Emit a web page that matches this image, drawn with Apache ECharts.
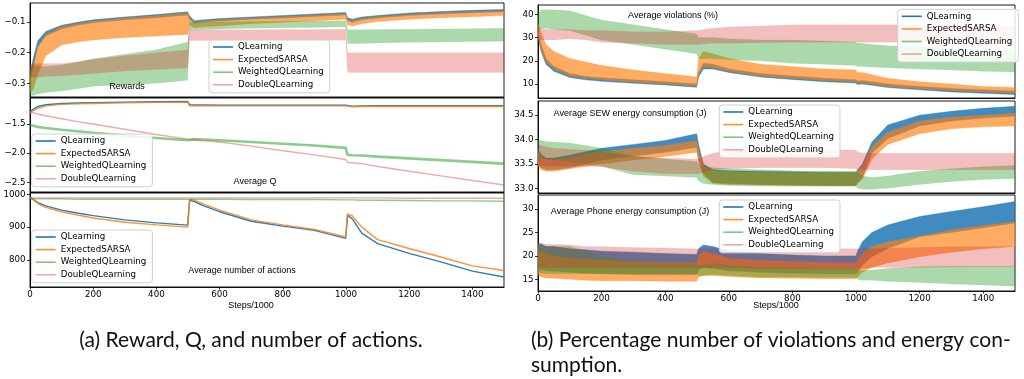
<!DOCTYPE html>
<html><head><meta charset="utf-8">
<script src="https://cdn.jsdelivr.net/npm/echarts@6/dist/echarts.min.js"></script>
<style>html,body{margin:0;padding:0;background:#fff}#c{width:1024px;height:379px}</style>
</head><body><div id="c"></div>
<script>
// ---------- data ----------
const steps = [0,10,25,50,100,150,200,300,400,499,505,520,550,600,700,800,900,999,1005,1020,1050,1100,1200,1300,1400,1500];
const seriesNames = ['QLearning','ExpectedSARSA','WeightedQLearning','DoubleQLearning'];
const xTicks = [0,200,400,600,800,1000,1200,1400];

// Rewards (bands: low/high envelope)
const rewQL_lo = [-0.3,-0.25,-0.18,-0.145,-0.122,-0.11,-0.102,-0.092,-0.085,-0.076,-0.09,-0.104,-0.1,-0.096,-0.09,-0.086,-0.081,-0.076,-0.095,-0.1,-0.092,-0.086,-0.078,-0.073,-0.069,-0.066];
const rewQL_hi = [-0.27,-0.22,-0.16,-0.13,-0.11,-0.1,-0.092,-0.083,-0.075,-0.066,-0.08,-0.095,-0.092,-0.088,-0.083,-0.078,-0.073,-0.068,-0.085,-0.09,-0.083,-0.078,-0.07,-0.065,-0.061,-0.058];
const rewES_lo = [-0.33,-0.32,-0.27,-0.21,-0.175,-0.165,-0.158,-0.15,-0.145,-0.14,-0.11,-0.118,-0.115,-0.112,-0.105,-0.1,-0.095,-0.09,-0.108,-0.112,-0.105,-0.098,-0.09,-0.085,-0.082,-0.078];
const rewES_hi = [-0.28,-0.24,-0.18,-0.14,-0.115,-0.105,-0.097,-0.087,-0.079,-0.07,-0.085,-0.1,-0.096,-0.092,-0.087,-0.082,-0.077,-0.072,-0.09,-0.095,-0.088,-0.082,-0.075,-0.07,-0.066,-0.063];
const rewWQ_lo = [-0.34,-0.34,-0.335,-0.33,-0.325,-0.318,-0.31,-0.305,-0.3,-0.29,-0.125,-0.125,-0.124,-0.122,-0.12,-0.118,-0.117,-0.115,-0.17,-0.17,-0.17,-0.168,-0.166,-0.165,-0.163,-0.162];
const rewWQ_hi = [-0.24,-0.24,-0.245,-0.245,-0.24,-0.23,-0.22,-0.205,-0.19,-0.165,-0.1,-0.1,-0.1,-0.099,-0.098,-0.097,-0.096,-0.095,-0.125,-0.125,-0.125,-0.124,-0.123,-0.122,-0.121,-0.12];
const rewDQ_lo = [-0.28,-0.28,-0.28,-0.278,-0.275,-0.272,-0.268,-0.26,-0.255,-0.25,-0.16,-0.16,-0.16,-0.16,-0.16,-0.16,-0.159,-0.159,-0.265,-0.265,-0.265,-0.265,-0.265,-0.265,-0.265,-0.265];
const rewDQ_hi = [-0.24,-0.235,-0.235,-0.235,-0.235,-0.23,-0.222,-0.21,-0.2,-0.19,-0.125,-0.125,-0.125,-0.125,-0.125,-0.124,-0.124,-0.123,-0.2,-0.2,-0.2,-0.2,-0.2,-0.2,-0.2,-0.2];
const rewTicks = [-0.3,-0.2,-0.1];

// Average Q (lines)
const qQL = [-1.3,-1.25,-1.2,-1.17,-1.15,-1.14,-1.135,-1.125,-1.12,-1.115,-1.17,-1.175,-1.175,-1.178,-1.18,-1.18,-1.18,-1.18,-1.2,-1.195,-1.19,-1.185,-1.185,-1.185,-1.185,-1.185];
const qES = [-1.31,-1.27,-1.23,-1.19,-1.165,-1.155,-1.148,-1.138,-1.13,-1.125,-1.19,-1.188,-1.188,-1.19,-1.19,-1.19,-1.19,-1.19,-1.21,-1.205,-1.2,-1.2,-1.2,-1.2,-1.2,-1.2];
const qWQ = [-1.52,-1.53,-1.55,-1.57,-1.6,-1.625,-1.65,-1.7,-1.74,-1.78,-1.76,-1.76,-1.765,-1.78,-1.81,-1.84,-1.87,-1.91,-2.03,-2.035,-2.04,-2.06,-2.09,-2.12,-2.15,-2.18];
const qDQ = [-1.3,-1.31,-1.33,-1.36,-1.41,-1.46,-1.5,-1.59,-1.68,-1.76,-1.765,-1.775,-1.79,-1.81,-1.88,-1.96,-2.03,-2.11,-2.16,-2.165,-2.18,-2.23,-2.31,-2.39,-2.47,-2.545];
const qTicks = [-2.5,-2.0,-1.5];

// Average number of actions (lines)
const actQL = [990,985,975,965,952,943,935,922,913,906,982,978,965,947,918,903,890,866,936,925,882,850,820,794,766,748];
const actES = [990,984,972,960,947,937,928,915,907,900,984,982,970,952,922,907,893,870,940,934,900,862,835,809,782,768];
const actWQ = [988,986,986,986,986,985,985,985,985,985,985,985,985,985,984,984,984,983,983,983,982,982,981,980,980,979];
const actDQ = [990,989,989,989,989,989,989,989,989,989,989,989,989,989,989,989,989,989,989,989,989,989,988,988,988,988];
const actTicks = [800,900,1000];

// Average violations (%) (bands)
const vioQL_lo = [30,24,18.5,15.5,12.8,11.8,11.2,10.3,9.6,8.6,13,16.5,16.5,15,13,12,11,10.4,9.8,10,9.5,8.5,7.5,6.6,6,5.5];
const vioQL_hi = [33,27,21,17.5,14.5,13.3,12.7,11.8,11,10,15,19,18.5,16.5,14.5,13.5,12.5,11.9,11.3,11.5,11,10,9,8.1,7.5,7];
const vioES_lo = [31,25,19.5,16.5,13.5,12.5,11.8,10.8,10,9.2,14,17.5,17,15.5,13.5,12.5,11.5,11,10.5,10.5,10,9,8,7.2,6.6,6.2];
const vioES_hi = [36,32,27,24,21,19.5,18,16,14.5,13,21,24,23,21,18.5,17.5,16.5,16,15,15,14,12.5,11,10,9,8.5];
const vioWQ_lo = [34,34,34,33.5,33,31,29,27,25,23,21,21,21,20.5,20,19,18.5,18,17.5,17.5,17.3,17,16.5,16,15.5,15.2];
const vioWQ_hi = [40,42,42,42,41.5,39.5,37.5,35.5,33.5,31.5,30,30,30,29.5,29,29,28.5,28,27.5,27.5,27,26.5,26,25.5,25,24.5];
const vioDQ_lo = [29,29,29,29,29.5,29,28,27.5,27,27,27,27.2,27.5,27.5,27.8,28,28,28,28,28,28,28,28,28,28,28];
const vioDQ_hi = [35,34,33.5,33.5,33.5,33,33,32.5,32.5,33,33,33.5,34,34.5,35,35.5,35.5,35.5,35.5,35.5,35.5,35.5,35.3,35,35,34.8];
const vioTicks = [10,20,30,40];

// Average SEW energy consumption (J) (bands)
const sewQL_lo = [33.5,33.42,33.38,33.38,33.42,33.5,33.58,33.66,33.74,33.84,33.6,33.3,33.12,33.1,33.08,33.07,33.06,33.06,33.12,33.22,33.72,34.02,34.28,34.38,34.44,34.48];
const sewQL_hi = [33.8,33.7,33.62,33.62,33.68,33.75,33.82,33.9,33.98,34.12,33.9,33.5,33.38,33.36,33.35,33.34,33.33,33.33,33.38,33.5,33.95,34.3,34.5,34.58,34.64,34.68];
const sewES_lo = [33.45,33.38,33.35,33.35,33.4,33.45,33.5,33.58,33.65,33.74,33.55,33.25,33.1,33.08,33.07,33.06,33.06,33.06,33.1,33.18,33.6,33.9,34.12,34.22,34.26,34.28];
const sewES_hi = [33.75,33.65,33.6,33.58,33.62,33.7,33.75,33.82,33.88,33.98,33.8,33.45,33.36,33.34,33.33,33.32,33.32,33.32,33.36,33.45,33.85,34.15,34.38,34.46,34.5,34.54];
const sewWQ_lo = [33.6,33.6,33.6,33.58,33.55,33.5,33.45,33.28,33.25,33.22,33.15,33.1,33.08,33.06,33.05,33.04,33.04,33.04,33.0,32.98,32.98,33.0,33.08,33.14,33.18,33.2];
const sewWQ_hi = [34.0,33.98,33.96,33.95,33.93,33.88,33.82,33.66,33.6,33.55,33.5,33.45,33.42,33.4,33.38,33.36,33.35,33.35,33.32,33.25,33.22,33.25,33.35,33.4,33.44,33.47];
const sewDQ_lo = [33.45,33.45,33.45,33.45,33.45,33.45,33.44,33.35,33.3,33.3,33.3,33.33,33.38,33.4,33.42,33.42,33.42,33.4,33.38,33.38,33.38,33.38,33.38,33.38,33.38,33.38];
const sewDQ_hi = [33.9,33.88,33.85,33.82,33.8,33.78,33.75,33.65,33.62,33.6,33.6,33.65,33.72,33.78,33.8,33.8,33.8,33.78,33.75,33.72,33.72,33.72,33.72,33.72,33.72,33.72];
const sewTicks = [33.0,33.5,34.0,34.5];

// Average Phone energy consumption (J) (bands)
const phQL_lo = [17,17,16.8,16.7,16.5,16.3,16.2,16,16,16,17,17.5,17.3,16.8,16.5,16.3,16.2,16.2,16.5,18,19.8,21.6,24.1,25,26,27];
const phQL_hi = [22.5,22.5,22,22,21.5,21.3,21,20.8,20.5,20.3,21.5,22.3,22,21,20.5,20.2,20,20,21,23,25,26.6,28.4,29.5,30.5,31.6];
const phES_lo = [16,15.5,15.3,15.2,15,14.8,14.7,14.7,14.6,14.6,15.5,15.8,15.8,15.6,15.3,15.2,15.1,15.1,15.5,16.5,17.5,18.5,19.8,20.8,21.5,22];
const phES_hi = [21,21,20.5,20,19.5,19.3,19,18.8,18.6,18.5,20,21,20.5,19.5,19,18.8,18.6,18.5,19,20.5,22,23,24.2,25.5,26.5,27.3];
const phWQ_lo = [16.5,16.3,16.2,16.2,16.2,16.2,16.2,16.2,16.2,16.2,15.8,15.8,16,15.8,15.5,15.5,15.4,15.4,15,14.8,14.8,14.6,14.3,14,13.8,13.5];
const phWQ_hi = [22.5,22.5,22,22,22,21,20,19,18.5,18.3,17.8,18,18.5,18,17.5,17.5,17.3,17.3,17,16.8,17,17.3,17.7,17.8,17.8,17.8];
const phDQ_lo = [17.5,17.5,17.5,17.5,17.5,17.5,17.5,17.5,17.5,17.5,17.5,17.5,17.5,17.5,17.3,17.3,17.3,17.3,17.3,17.3,17.5,17.5,17.5,17.6,17.7,17.7];
const phDQ_hi = [22.8,22.8,22.5,22.5,22.3,22,22,21.8,21.7,21.5,21.5,21.5,21.5,21.5,21.5,21.5,21.5,21.5,21.5,21.5,21.5,21.7,21.8,22,22,22];
const phTicks = [15,20,25,30];

// ---------- styling ----------
const COLORS = {QLearning:'#1f77b4', ExpectedSARSA:'#ff7f0e', WeightedQLearning:'#2ca02c', DoubleQLearning:'#d62728'};
const BAND_ALPHA = {QLearning:0.85, ExpectedSARSA:0.65, WeightedQLearning:0.4, DoubleQLearning:0.3};
const LINE_ALPHA = {QLearning:0.95, ExpectedSARSA:0.85, WeightedQLearning:0.55, DoubleQLearning:0.4};
const LEG_COL = {QLearning:'rgba(31,119,180,1)', ExpectedSARSA:'rgba(255,127,14,0.85)', WeightedQLearning:'rgba(44,160,44,0.6)', DoubleQLearning:'rgba(214,39,40,0.4)'};
const TICKFONT = 'DejaVu Sans';

const panels = [
  {grid:[30,3,474,94], y:[-0.345,-0.037], ticks:rewTicks, dec:1, kind:'band', xl:false,
   d:[[rewQL_lo,rewQL_hi],[rewES_lo,rewES_hi],[rewWQ_lo,rewWQ_hi],[rewDQ_lo,rewDQ_hi]], leg:[209,40], title:['Rewards',127,87]},
  {grid:[30,98,474,94], y:[-2.666,-1.055], ticks:qTicks, dec:1, kind:'line', xl:false,
   d:[qQL,qES,qWQ,qDQ], leg:[31.7,134], title:['Average Q',255,182]},
  {grid:[30,193,474,94], y:[717.7,1004], ticks:actTicks, dec:0, kind:'line', xl:true,
   d:[actQL,actES,actWQ,actDQ], leg:[31.7,230], title:['Average number of actions',242,271]},
  {grid:[538,5,477,93], y:[4,44], ticks:vioTicks, dec:0, kind:'band', xl:false,
   d:[[vioQL_lo,vioQL_hi],[vioES_lo,vioES_hi],[vioWQ_lo,vioWQ_hi],[vioDQ_lo,vioDQ_hi]], leg:[897.7,9.3], title:['Average violations (%)',673,16]},
  {grid:[538,101,477,92], y:[32.904,34.79], ticks:sewTicks, dec:1, kind:'band', xl:false,
   d:[[sewQL_lo,sewQL_hi],[sewES_lo,sewES_hi],[sewWQ_lo,sewWQ_hi],[sewDQ_lo,sewDQ_hi]], leg:[719.3,105], title:['Average SEW energy consumption (J)',630,114]},
  {grid:[538,195,477,96], y:[12.5,33], ticks:phTicks, dec:0, kind:'band', xl:true,
   d:[[phQL_lo,phQL_hi],[phES_lo,phES_hi],[phWQ_lo,phWQ_hi],[phDQ_lo,phDQ_hi]], leg:[719.3,200], title:['Average Phone energy consumption (J)',630,212]}
];

function fmt(dec){ return v => (v < 0 ? '\u2212' : '') + Math.abs(v).toFixed(dec); }

const grids=[], xAxes=[], yAxes=[], series=[], legends=[], graphics=[];
panels.forEach((p,i)=>{
  grids.push({left:p.grid[0], top:p.grid[1], width:p.grid[2], height:p.grid[3], show:true, borderColor:'#000', borderWidth:0.9, backgroundColor:'transparent', containLabel:false});
  xAxes.push({type:'value', gridIndex:i, min:0, max:1500,
    axisLine:{show:true, lineStyle:{color:'#000', width:0.9}},
    axisTick:{show:p.xl, length:2.5, customValues:xTicks, lineStyle:{color:'#000', width:0.8}},
    axisLabel:{show:p.xl, customValues:xTicks, margin:3.5, fontSize:8.7, fontFamily:TICKFONT, color:'#000', formatter:v=>String(v)},
    splitLine:{show:false}});
  yAxes.push({type:'value', gridIndex:i, min:p.y[0], max:p.y[1],
    axisLine:{show:true, lineStyle:{color:'#000', width:0.9}},
    axisTick:{show:true, length:3, customValues:p.ticks, lineStyle:{color:'#000', width:0.8}},
    axisLabel:{show:true, customValues:p.ticks, margin:4.5, fontSize:8.7, fontFamily:TICKFONT, color:'#000', formatter:fmt(p.dec)},
    splitLine:{show:false}});
  seriesNames.forEach((name,k)=>{
    const col = COLORS[name];
    if (p.kind === 'band') {
      const lo = p.d[k][0], hi = p.d[k][1];
      const pts = steps.map((s,j)=>[s, lo[j], hi[j]]);
      series.push({type:'custom', name, xAxisIndex:i, yAxisIndex:i, clip:true, silent:true,
        itemStyle:{color:col},
        encode:{x:0, y:[1,2]},
        data: pts,
        renderItem:(params, api)=>{
          if (params.dataIndex !== 0) return null;
          const upper = pts.map(r=>api.coord([r[0], r[2]]));
          const lower = pts.map(r=>api.coord([r[0], r[1]])).reverse();
          return {type:'polygon', shape:{points: upper.concat(lower)},
            style:{fill:col, opacity:BAND_ALPHA[name], stroke:col, lineWidth:0.5, strokeOpacity:BAND_ALPHA[name]}};
        }});
    } else {
      const vals = p.d[k];
      const w = (i===1 && name==='WeightedQLearning') ? 2.6 : 1.4;
      series.push({type:'line', name, xAxisIndex:i, yAxisIndex:i, symbol:'none', silent:true,
        lineStyle:{color:col, width:w, opacity:LINE_ALPHA[name]}, itemStyle:{color:col},
        data: steps.map((s,j)=>[s, vals[j]])});
    }
  });
  legends.push({orient:'vertical', left:p.leg[0], top:p.leg[1], padding:[2,6,3,4], itemGap:2.6,
    itemWidth:20, itemHeight:1.6, icon:'rect', selectedMode:false,
    backgroundColor:'rgba(255,255,255,0.85)', borderColor:'#d0d0d0', borderWidth:1, borderRadius:3,
    textStyle:{fontSize:8.7, fontFamily:TICKFONT, color:'#000', lineHeight:10},
    data: seriesNames.map(n=>({name:n, itemStyle:{color:LEG_COL[n], opacity:1}}))});
  graphics.push({type:'text', x:p.title[1], y:p.title[2], z:100,
    style:{text:p.title[0], font:'9px "Liberation Sans"', fill:'#000', textAlign:'center', textVerticalAlign:'middle', align:'center', verticalAlign:'middle'}});
});

const mid = {align:'center', verticalAlign:'middle', textAlign:'center', textVerticalAlign:'middle'};
const lft = {align:'left', verticalAlign:'middle', textAlign:'left', textVerticalAlign:'middle'};
graphics.push({type:'text', x:251, y:306, style:Object.assign({text:'Steps/1000', font:'9px "Liberation Sans"', fill:'#000'}, mid)});
graphics.push({type:'text', x:776, y:306, style:Object.assign({text:'Steps/1000', font:'9px "Liberation Sans"', fill:'#000'}, mid)});
graphics.push({type:'text', x:251, y:340, style:Object.assign({text:'(a) Reward, Q, and number of actions.', font:'21px Lato', fill:'#111'}, mid)});
graphics.push({type:'text', x:531, y:340, style:Object.assign({text:'(b) Percentage number of violations and energy con-', font:'21px Lato', fill:'#111'}, lft)});
graphics.push({type:'text', x:531, y:365, style:Object.assign({text:'sumption.', font:'21px Lato', fill:'#111'}, lft)});

const chart = echarts.init(document.getElementById('c'), null, {renderer:'canvas'});
chart.setOption({animation:false, backgroundColor:'#fff', grid:grids, xAxis:xAxes, yAxis:yAxes, series, legend:legends, graphic:graphics});
</script></body></html>
